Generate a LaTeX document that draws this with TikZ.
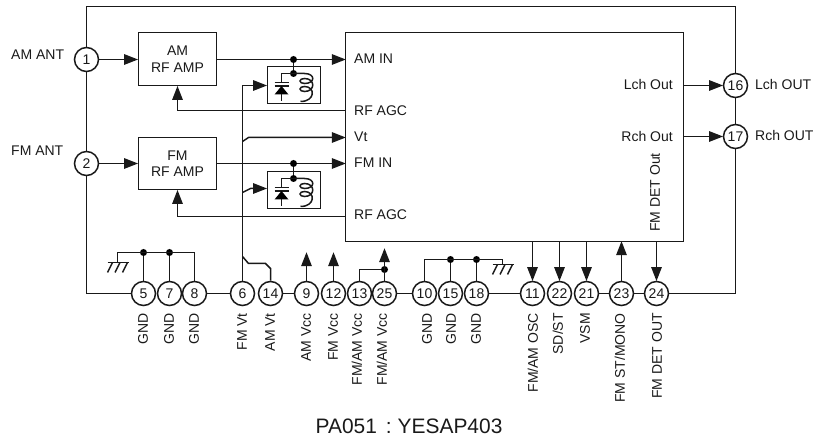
\documentclass[tikz,border=0pt]{standalone}
\usepackage{fontspec}
\setmainfont{Liberation Sans}
\usetikzlibrary{arrows.meta}
\tikzset{
  line/.style={line width=1.5bp,black!90},
  arr/.style={line,-{Triangle[length=14bp,width=10.5bp]},shorten >=-0.3bp},
  pin/.style={circle,draw,line width=1.5bp,black!90,fill=white,minimum size=24bp,inner sep=0pt,font=\fontsize{14.05}{14}\selectfont,text=black!90},
  blk/.style={draw,line width=1.5bp,black!90,inner sep=0pt,align=center,font=\fontsize{14.05}{16.5}\selectfont},
  dot/.style={circle,fill=black,minimum size=7bp,inner sep=0pt},
  lbl/.style={font=\fontsize{14.05}{14}\selectfont,inner sep=0pt,text=black!90},
  vlbl/.style={lbl,rotate=90,anchor=east,text height=10pt,text depth=0pt},
  pics/tanksym/.style={code={
    \draw[line] (0,7) -- (-12,7) -- (-12,16);
    \draw[line,line width=1.5bp] (-19,16) -- (-5,16);
    \draw[line,line width=1.5bp] (-19,19.5) -- (-5,19.5);
    \fill[black] (-12,19.5) -- (-19,28) -- (-5,28) -- cycle;
    \draw[line] (-12,28) -- (-12,34.5);
    \draw[line] (0,7) -- (11,7) .. controls (22,7) and (22,17) .. (11,17)
      .. controls (5,17) and (5,12) .. (11,12) .. controls (22,12) and (22,25) .. (11,25)
      .. controls (5,25) and (5,20) .. (11,20) .. controls (22,20) and (22,35) .. (7,35);
  }},
}
\begin{document}
\begin{tikzpicture}[x=1bp,y=-1bp,shift={(0.5,0.5)}]
\useasboundingbox (-0.5,-0.5) rectangle (819.5,439.5);
% main blocks
\node[blk,minimum width=78bp,minimum height=53bp] (ampA) at (177,58.5) {AM\\RF AMP};
\node[blk,minimum width=78bp,minimum height=52bp] (ampF) at (177,163) {FM\\RF AMP};
\node[blk,minimum width=338bp,minimum height=209bp] (core) at (514,136.5) {};
\node[blk,minimum width=53bp,minimum height=37bp] (tankA) at (293.5,84.5) {};
\node[blk,minimum width=53bp,minimum height=37bp] (tankF) at (293.5,189.5) {};
% pins
\foreach \n/\x/\y in {1/86/59,2/86/163,16/735/85,17/735/136,
  5/143/293,7/169/293,8/194/293,6/242/293,14/270/293,9/306/293,12/333/293,13/359/293,25/384/293,
  10/424/293,15/450/293,18/476/293,11/532/293,22/559/293,21/586/293,23/621/293,24/656/293}
  \node[pin] (p\n) at (\x,\y) {\n};
% outer frame
\coordinate (tl) at (86,6); \coordinate (tr) at (735,6);
\coordinate (bl) at (86,293); \coordinate (br) at (735,293);
\draw[line] (p1) -- (tl) -- (tr) -- (p16);
\draw[line] (p16) -- (p17);
\draw[line] (p1) -- (p2);
\draw[line] (p2) -- (bl) -- (p5);
\draw[line] (p8) -- (p6);
\draw[line] (p14) -- (p9);
\draw[line] (p25) -- (p10);
\draw[line] (p18) -- (p11);
\draw[line] (p21) -- (p23);
\draw[line] (p23) -- (p24);
\draw[line] (p24) -- (br) -- (p17);
% core port points
\coordinate (inAM) at (345,59);
\coordinate (agcA) at (345,110);
\coordinate (inVt) at (345,137);
\coordinate (inFM) at (345,163);
\coordinate (agcF) at (345,216);
\coordinate (outL) at (683,85);
\coordinate (outR) at (683,136);
% signal path
\draw[arr] (p1) -- (p1 -| ampA.west);
\draw[arr] (p2) -- (ampF);
\draw[arr] (ampA.east |- inAM) -- (inAM);
\draw[arr] (ampF.east) -- (inFM);
\draw[arr] (agcA) -| (ampA.south);
\draw[arr] (agcF) -| (ampF.south);
\draw[arr] (outL) -- (p16);
\draw[arr] (outR) -- (p17);
% tank circuits
\node[dot] (dA1) at (293,59) {};
\node[dot] (dA2) at (293,73) {};
\node[dot] (dF1) at (293,163) {};
\node[dot] (dF2) at (293,178) {};
\draw[line] (dA1) -- (dA2);
\draw[line] (dF1) -- (dF2);
\pic at (293,66) {tanksym};
\pic at (293,171) {tanksym};
% Vt feeds
\coordinate (v6top) at (242,85);
\coordinate (kVt1) at (242,141); \coordinate (kVt2) at (248,137);
\coordinate (kTk1) at (242,192); \coordinate (kTk2) at (250,188);
\coordinate (k14a) at (242,256); \coordinate (k14b) at (248,263);
\coordinate (k14c) at (265,263); \coordinate (k14d) at (270,268);
\draw[arr] (p6) -- (v6top) -- (v6top -| tankA.west);
\draw[arr] (kVt1) -- (kVt2) -- (inVt);
\draw[arr] (kTk1) -- (kTk2) -- (kTk2 -| tankF.west);
\draw[line] (k14a) -- (k14b) -- (k14c) -- (k14d) -- (p14);
% left ground
\node[dot] (g5) at (143,252) {};
\node[dot] (g7) at (169,252) {};
\coordinate (gl) at (117,252); \coordinate (gl2) at (117,262); \coordinate (g8) at (194,252);
\draw[line] (gl2) -- (gl) -- (g8) -- (p8);
\draw[line] (g5) -- (p5);
\draw[line] (g7) -- (p7);
\draw[line] (107,262) -- (128,262);
\foreach \x in {112,119.5,127} \draw[line] (\x,262) -- (\x-5,272);
% right ground
\node[dot] (g15) at (450,259) {};
\node[dot] (g18) at (476,259) {};
\coordinate (g10) at (424,259); \coordinate (gr) at (502,259); \coordinate (gr2) at (502,264);
\draw[line] (p10) -- (g10) -- (gr) -- (gr2);
\draw[line] (g15) -- (p15);
\draw[line] (g18) -- (p18);
\draw[line] (492,264) -- (513,264);
\foreach \x in {497,504.5,512} \draw[line] (\x,264) -- (\x-5,274);
% Vcc
\coordinate (t9) at (306,252); \coordinate (t12) at (333,252); \coordinate (t25) at (384,248);
\draw[arr] (p9) -- (t9);
\draw[arr] (p12) -- (t12);
\node[dot] (dV) at (384,269) {};
\draw[arr] (p25) -- (t25);
\coordinate (k13) at (359,269);
\draw[line] (p13) -- (k13) -- (dV);
% lower core pins
\foreach \n/\x in {11/532,22/559,21/586,24/656} {
  \coordinate (c\n) at (\x,241);
  \draw[arr] (c\n) -- (p\n);
}
\coordinate (c23) at (621,241);
\draw[arr] (p23) -- (c23);
% labels
\node[lbl,anchor=west] (tAMA) at (10.5,54.5) {AM ANT};
\node[lbl,anchor=west] (tFMA) at (10.5,150.5) {FM ANT};
\node[lbl,anchor=west] (tLO) at (754.5,84.5) {Lch OUT};
\node[lbl,anchor=west] (tRO) at (754.5,135.5) {Rch OUT};
\node[lbl,anchor=west] (t1) at (353.5,58.5) {AM IN};
\node[lbl,anchor=west] (t2) at (353.5,110) {RF AGC};
\node[lbl,anchor=west] (t3) at (353.5,136.5) {Vt};
\node[lbl,anchor=west] (t4) at (353.5,162.5) {FM IN};
\node[lbl,anchor=west] (t5) at (353.5,214.5) {RF AGC};
\node[lbl,anchor=east] (t6) at (672.5,84.5) {Lch Out};
\node[lbl,anchor=east] (t7) at (672.5,136) {Rch Out};
\node[vlbl] (t8) at (654.5,152.5) {FM DET Out};
\foreach \x/\t in {143/GND,169/GND,194/GND,242/FM Vt,270/AM Vt,306/AM Vcc,333/FM Vcc,357/FM\slash AM Vcc,382/FM\slash AM Vcc,
  427/GND,451/GND,476/GND,533/FM\slash AM OSC,558/SD\slash ST,585/VSM,620/FM ST\slash MONO,657/FM DET OUT}
  \node[vlbl] at (\x-0.5,312.5) {\t};
\node[lbl,anchor=west,font=\fontsize{21}{21}\selectfont] (cap) at (315,425.5) {PA051\hspace{9pt}:\hspace{6pt}YESAP403};
\end{tikzpicture}
\end{document}
